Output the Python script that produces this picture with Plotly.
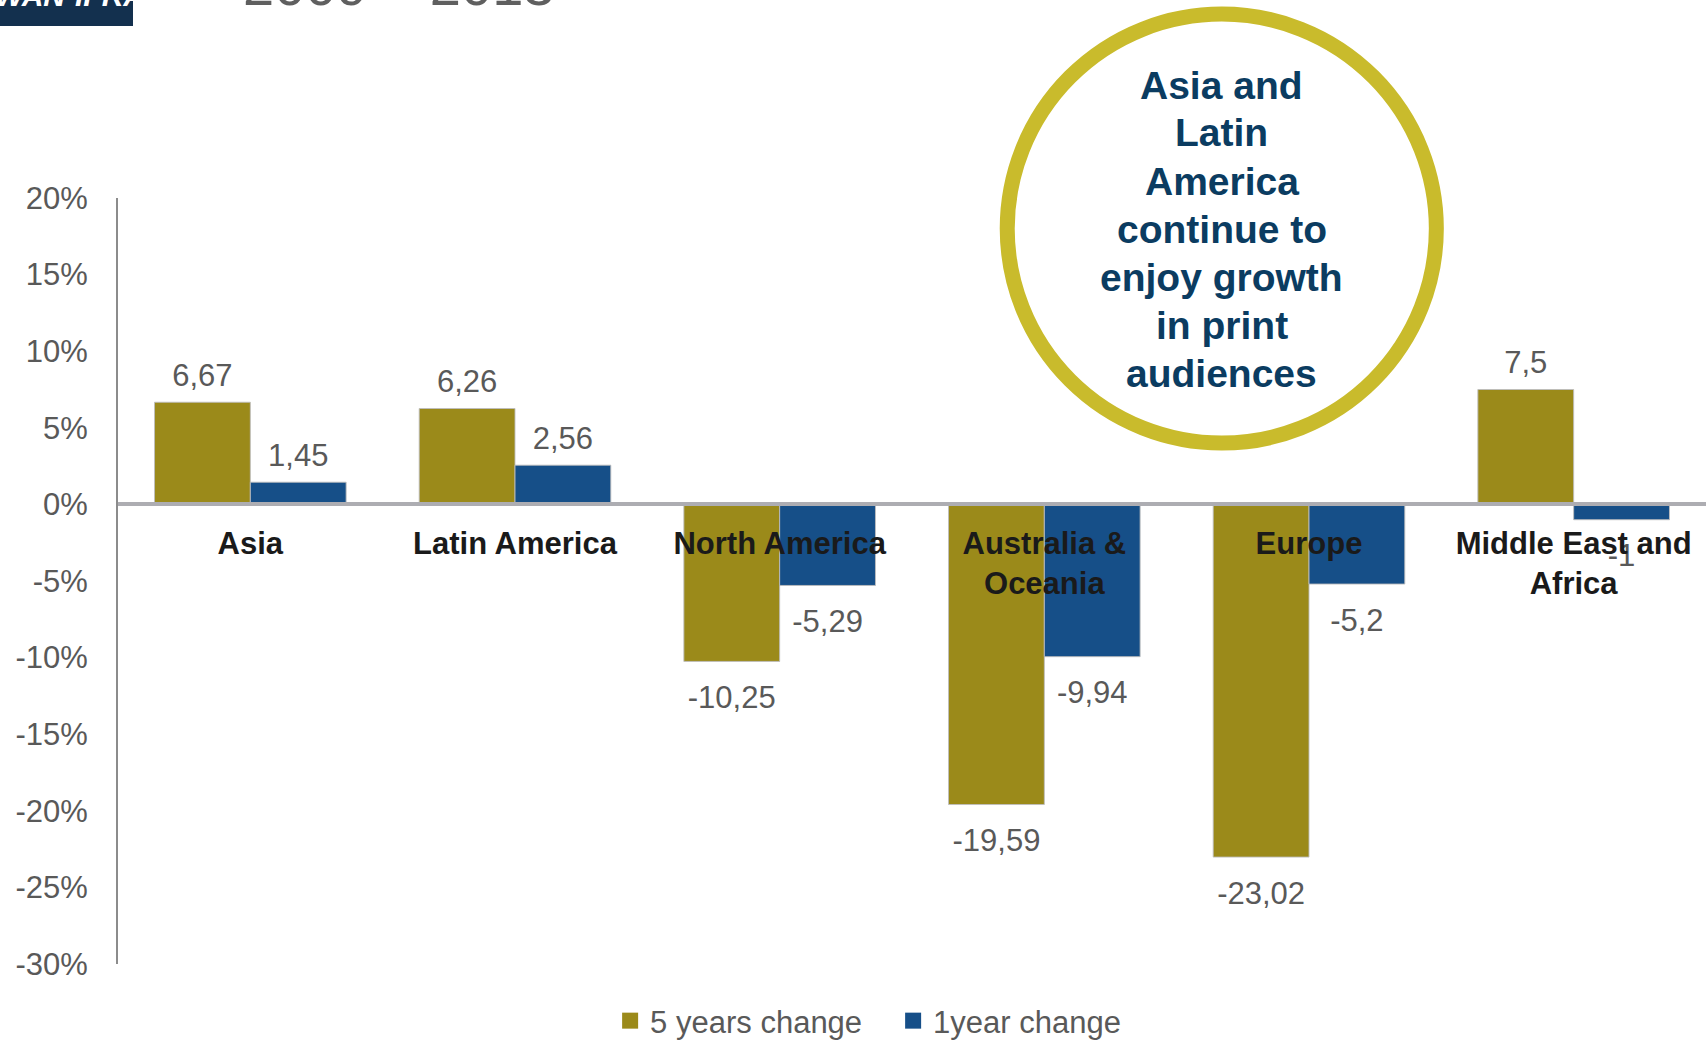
import plotly.graph_objects as go

# Regional change in print audiences (%)
regions = ["Asia", "Latin America", "North America", "Australia &<br>Oceania",
           "Europe", "Middle East and<br>Africa"]
five_year_change = [6.67, 6.26, -10.25, -19.59, -23.02, 7.5]
one_year_change = [1.45, 2.56, -5.29, -9.94, -5.2, -1]
series_names = ["5 years change", "1year change"]
y_ticks = [20, 15, 10, 5, 0, -5, -10, -15, -20, -25, -30]
callout_lines = ["Asia and", "Latin", "America", "continue to",
                 "enjoy growth", "in print", "audiences"]
title_text = "2009 – 2013"

FONT = "Liberation Sans, Arial, sans-serif"
OLIVE = "#9B8A1A"
BLUE = "#164F88"
GREY_TXT = "#595959"
LABEL_SIZE = 31

# page geometry (pixels) of the plotting area
W_PAGE, H_PAGE = 1707, 1040
L, T = 118, 198
PW, PH = 1587.6, 766


def px(x):
    return (x - L) / PW


def py(y):
    return 1 - (y - T) / PH


def fmt(v):
    return f"{v:g}".replace(".", ",")


series = [(series_names[0], five_year_change, OLIVE),
          (series_names[1], one_year_change, BLUE)]

fig = go.Figure()
for name, vals, color in series:
    fig.add_trace(go.Bar(
        name=name, x=regions, y=vals, showlegend=False,
        marker=dict(color=color, line=dict(color="rgba(190,190,190,0.9)", width=1)),
    ))

# value labels, grouped alongside the bars; an invisible marker keeps them
# clear of the bar ends
for name, vals, color in series:
    fig.add_trace(go.Scatter(
        x=regions, y=vals, mode="markers+text", showlegend=False, hoverinfo="skip",
        text=[fmt(v) for v in vals],
        textposition=["top center" if v >= 0 else "bottom center" for v in vals],
        textfont=dict(family=FONT, size=LABEL_SIZE, color=GREY_TXT),
        marker=dict(size=[12 if v >= 0 else 36 for v in vals], opacity=0),
        cliponaxis=False,
    ))

# legend entries with square swatches
for name, vals, color in series:
    fig.add_trace(go.Scatter(
        name=name, x=[None], y=[None], mode="markers",
        marker=dict(symbol="square", size=17, color=color),
        xaxis="x2", yaxis="y2", showlegend=True,
    ))

fig.update_layout(
    width=W_PAGE, height=H_PAGE,
    margin=dict(l=L, r=W_PAGE - L - PW, t=T, b=H_PAGE - T - PH, pad=0,
                autoexpand=False),
    paper_bgcolor="white", plot_bgcolor="white",
    barmode="group", bargap=0.276, bargroupgap=0,
    scattermode="group", scattergap=0.276,
    font=dict(family=FONT, color=GREY_TXT),
    showlegend=True,
    legend=dict(orientation="h", x=px(610), xanchor="left",
                yref="container", y=(H_PAGE - 1021) / H_PAGE, yanchor="middle",
                font=dict(family=FONT, size=LABEL_SIZE, color=GREY_TXT),
                itemwidth=30, entrywidth=238, tracegroupgap=0,
                bgcolor="rgba(0,0,0,0)"),
    xaxis=dict(
        anchor="free", position=0.6, showgrid=False, zeroline=False,
        showline=True, linecolor="#ADADB2", linewidth=4,
        ticks="", ticklabelstandoff=10,
        tickfont=dict(family=FONT, size=LABEL_SIZE, color="#1A1A1A", weight="bold"),
    ),
    yaxis=dict(
        range=[-30, 20], tickmode="array", tickvals=y_ticks,
        ticktext=[f"{v}%" for v in y_ticks],
        showgrid=False, zeroline=False, showline=True,
        linecolor="#8C8C8C", linewidth=2, ticks="", ticklabelstandoff=22,
        tickfont=dict(family=FONT, size=LABEL_SIZE, color=GREY_TXT),
    ),
    xaxis2=dict(overlaying="x", visible=False, range=[0, 1]),
    yaxis2=dict(overlaying="y", visible=False, range=[0, 1]),
)

shapes = []
annotations = []

# logo block in the top-left corner
shapes.append(dict(type="rect", xref="paper", yref="paper",
                   x0=px(0), x1=px(133), y0=py(26), y1=py(-40),
                   fillcolor="#13304E", line=dict(width=0), layer="above"))
annotations.append(dict(xref="paper", yref="paper", x=px(70), y=py(14),
                        xanchor="center", yanchor="bottom", showarrow=False,
                        text="<b><i>WAN·IFRA</i></b>",
                        font=dict(family=FONT, size=30, color="white")))

# slide title (mostly above the page edge)
annotations.append(dict(xref="paper", yref="paper", x=px(241), y=py(19),
                        xanchor="left", yanchor="bottom", showarrow=False,
                        text=title_text,
                        font=dict(family=FONT, size=56, color="#5F5F5F")))

# callout circle
cx, cy, r = 1221.5, 228.6, 214.5
shapes.append(dict(type="circle", xref="paper", yref="paper",
                   x0=px(cx - r), x1=px(cx + r), y0=py(cy + r), y1=py(cy - r),
                   fillcolor="white", line=dict(color="#C9BB2C", width=15),
                   layer="above"))
for i, line in enumerate(callout_lines):
    annotations.append(dict(xref="paper", yref="paper", x=px(cx), y=py(85 + 48 * i),
                            xanchor="center", yanchor="middle", showarrow=False,
                            text=f"<b>{line}</b>",
                            font=dict(family=FONT, size=39, color="#0B3C61")))

fig.update_layout(shapes=shapes, annotations=annotations)
fig.write_html("out.html")
